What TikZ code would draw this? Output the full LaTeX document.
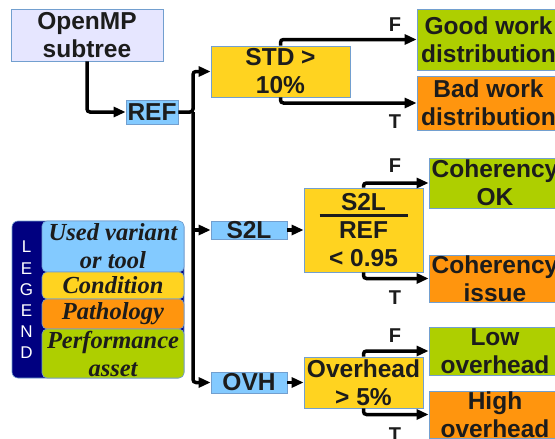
\documentclass[tikz,border=0pt]{standalone}
\usepackage{fontspec}
\setmainfont{Liberation Sans}
\newfontfamily\legfont{Liberation Serif}
\usetikzlibrary{arrows.meta}
\definecolor{lav}{HTML}{E6E6FF}
\definecolor{lblue}{HTML}{83CAFF}
\definecolor{yel}{HTML}{FFD320}
\definecolor{ora}{HTML}{FF950E}
\definecolor{grn}{HTML}{AECF00}
\definecolor{bord}{HTML}{729FCF}
\definecolor{navyc}{HTML}{000080}
\definecolor{txt}{HTML}{1C1C1C}
\begin{document}
\begin{tikzpicture}[x=1pt,y=-1pt,
  box/.style={draw=bord, line width=0.8pt, inner sep=0pt, align=center, text=txt,
    font=\fontsize{24.5}{28}\selectfont\bfseries},
  arr/.style={line width=3.5pt, -{Triangle[length=12pt,width=10pt]}, rounded corners=3pt},
  lab/.style={inner sep=0pt, text=txt, font=\fontsize{20}{24}\selectfont\bfseries},
  leg/.style={draw=bord, line width=0.6pt, rounded corners=5pt, inner sep=0pt, align=center,
    minimum width=142pt, text=txt, font=\legfont\fontsize{24.5}{28}\selectfont\bfseries\itshape},
  legl/.style={text=white, inner sep=0pt, font=\fontsize{17}{20}\selectfont}
]
\useasboundingbox (0,0) rectangle (555,439);
\clip (0,0) rectangle (555,439);
\fill[white] (0,0) rectangle (555,439);

% main nodes
\node[box, fill=lav, minimum width=152pt, minimum height=52pt] (omp) at (87,35) {OpenMP\\subtree};
\node[box, fill=lblue, minimum width=52pt, minimum height=24pt] (ref) at (152,112) {REF};
\node[box, fill=yel, minimum width=139pt, minimum height=51pt] (std) at (280.5,71.5) {STD >\\10\%};
\node[box, fill=lblue, minimum width=76pt, minimum height=18pt] (s2l) at (249,230) {S2L};
\node[box, fill=lblue, minimum width=76pt, minimum height=21pt] (ovh) at (249,382.5) {OVH};
\node[box, fill=yel, minimum width=119pt, minimum height=84pt] (ratio) at (363.5,230) {S2L\\REF\\< 0.95};
\node[box, fill=yel, minimum width=119pt, minimum height=51pt] (over) at (363.5,382.5) {Overhead\\> 5\%};
\node[box, fill=grn, minimum width=143pt, minimum height=61pt] (good) at (488.5,39.5) {Good work\\distribution};
\node[box, fill=ora, minimum width=143pt, minimum height=54pt] (bad) at (488.5,103) {Bad work\\distribution};
\node[box, fill=grn, minimum width=132pt, minimum height=50pt] (cok) at (495,183) {Coherency\\OK};
\node[box, fill=ora, minimum width=132pt, minimum height=47pt] (ciss) at (495,278.5) {Coherency\\issue};
\node[box, fill=grn, minimum width=132pt, minimum height=48pt] (low) at (495,351) {Low\\overhead};
\node[box, fill=ora, minimum width=132pt, minimum height=47pt] (high) at (495,414.5) {High\\overhead};

% fraction bar
\draw[line width=3pt, txt] ([xshift=-44pt,yshift=15pt]ratio.center) -- ([xshift=44pt,yshift=15pt]ratio.center);

% connectors
\coordinate (tr) at (193,112);
\draw[arr] (omp.south) |- (ref.west);
\draw[arr] (ref.east) -- (tr) |- (std.west);
\draw[arr] (tr) |- (ovh.west);
\draw[arr] (tr |- s2l.west) -- (s2l.west);
\draw[arr] (s2l.east) -- (ratio.west);
\draw[arr] (ovh.east) -- (over.west);
\draw[arr] (std.north) |- (good.west);
\draw[arr] (std.south) |- (bad.west);
\draw[arr] (ratio.north) |- (cok.west);
\draw[arr] (ratio.south) |- (ciss.west);
\draw[arr] (over.north) |- (low.west);
\draw[arr] (over.south) |- (high.west);

% branch labels
\node[lab] (f1) at (395,24.5) {F};
\node[lab] (t1) at (395,121.5) {T};
\node[lab] (f2) at (395,165.5) {F};
\node[lab] (t2) at (395,297.5) {T};
\node[lab] (f3) at (395,335.5) {F};
\node[lab] (t3) at (395,434.5) {T};

% legend
\node[fill=navyc, draw=bord, line width=0.6pt, rounded corners=6pt, inner sep=0pt,
  minimum width=172pt, minimum height=157pt] (legbg) at (98,299.5) {};
\node[leg, fill=lblue, minimum height=51pt] (lu) at (113,246.5) {Used variant\\or tool};
\node[leg, fill=yel, minimum height=27pt] (lc) at (113,285.5) {Condition};
\node[leg, fill=ora, minimum height=30pt] (lp) at (113,314) {Pathology};
\node[leg, fill=grn, minimum height=49pt] (la) at (113,353.5) {Performance\\asset};
\node[legl] (l1) at (26.5,247) {L};
\node[legl] (l2) at (26.5,268.5) {E};
\node[legl] (l3) at (26.5,290) {G};
\node[legl] (l4) at (26.5,311) {E};
\node[legl] (l5) at (26.5,332) {N};
\node[legl] (l6) at (26.5,353) {D};
\end{tikzpicture}
\end{document}
